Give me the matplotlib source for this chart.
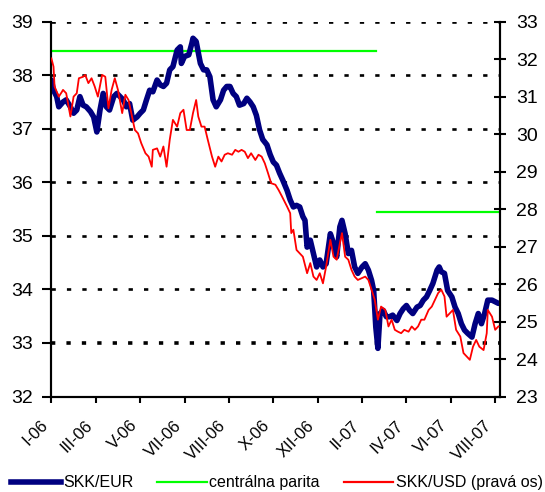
import matplotlib
matplotlib.use("Agg")
import matplotlib.pyplot as plt
from matplotlib.lines import Line2D
from matplotlib.transforms import ScaledTranslation

plt.rcParams['font.family'] = ['Liberation Sans', 'DejaVu Sans']

# Trading-day index (0 = 2 Jan 2006) and SKK/EUR fixing
eur_day = [0, 2, 5, 7, 11, 14, 18, 21, 24, 27, 30, 33, 37, 40, 43, 46, 49, 52, 55, 59,
           62, 65, 68, 71, 74, 77, 81, 84, 87, 90, 93, 96, 100, 103, 106, 109, 112, 115,
           119, 122, 123, 126, 130, 133, 134, 137, 141, 144, 147, 150, 153, 156, 160,
           163, 166, 169, 172, 175, 178, 182, 185, 188, 191, 194, 197, 200, 204, 207,
           210, 213, 216, 219, 223, 226, 229, 232, 235, 238, 240, 242, 245, 248, 251,
           254, 257, 260, 264, 267, 270, 273, 275, 278, 281, 284, 287, 290, 294, 297,
           300, 303, 305, 307, 309, 311, 314, 317, 320, 323, 327, 330, 333, 336, 339,
           342, 346, 349, 352, 355, 358, 361, 365, 367, 369, 372, 375, 379, 382, 385,
           388, 391, 394, 398, 401, 404, 407, 410, 413, 417, 420, 423]
eur_rate = [37.91, 37.72, 37.60, 37.41, 37.50, 37.54, 37.41, 37.29, 37.35, 37.60, 37.44,
            37.41, 37.32, 37.22, 36.94, 37.35, 37.66, 37.41, 37.35, 37.60, 37.66, 37.60,
            37.54, 37.41, 37.47, 37.16, 37.22, 37.29, 37.35, 37.54, 37.72, 37.69, 37.91,
            37.82, 37.79, 37.85, 38.10, 38.16, 38.47, 38.53, 38.22, 38.35, 38.38, 38.60,
            38.69, 38.63, 38.22, 38.10, 38.10, 37.97, 37.54, 37.41, 37.54, 37.72, 37.79,
            37.79, 37.66, 37.60, 37.44, 37.47, 37.57, 37.50, 37.41, 37.25, 36.98, 36.80,
            36.70, 36.52, 36.38, 36.32, 36.17, 36.04, 35.85, 35.67, 35.54, 35.57, 35.54,
            35.36, 35.29, 34.79, 34.92, 34.67, 34.42, 34.55, 34.42, 34.48, 35.04, 34.86,
            34.61, 35.17, 35.29, 35.04, 34.67, 34.73, 34.42, 34.30, 34.42, 34.48, 34.36,
            34.17, 33.98, 33.30, 32.90, 33.55, 33.61, 33.49, 33.49, 33.52, 33.42, 33.55,
            33.64, 33.70, 33.61, 33.55, 33.67, 33.70, 33.80, 33.86, 33.98, 34.11, 34.36,
            34.42, 34.33, 34.30, 33.98, 33.86, 33.67, 33.55, 33.36, 33.24, 33.18, 33.11,
            33.36, 33.55, 33.36, 33.55, 33.80, 33.80, 33.77, 33.74]

# SKK/USD fixing (right axis)
usd_day = [0, 2, 3, 7, 10, 11, 14, 18, 19, 21, 24, 26, 30, 32, 35, 38, 41, 44, 48, 51,
           54, 57, 60, 63, 67, 70, 73, 76, 79, 82, 85, 89, 92, 95, 96, 100, 103, 106,
           109, 112, 115, 119, 122, 125, 128, 131, 134, 137, 139, 142, 145, 148, 152,
           155, 158, 161, 164, 167, 171, 174, 177, 180, 183, 186, 189, 193, 196, 199,
           202, 205, 208, 212, 215, 218, 223, 226, 227, 229, 232, 235, 238, 242, 245,
           248, 251, 254, 257, 260, 264, 267, 270, 273, 275, 278, 281, 284, 287, 290,
           294, 297, 300, 303, 306, 309, 312, 316, 319, 322, 325, 328, 331, 334, 338,
           341, 344, 347, 350, 353, 357, 360, 363, 366, 369, 372, 374, 377, 380, 383,
           387, 390, 393, 396, 399, 402, 405, 409, 412, 413, 417, 420, 423]
usd_rate = [32.02, 31.80, 31.27, 31.00, 31.13, 31.18, 31.09, 30.47, 30.65, 31.00, 31.09,
            31.49, 31.53, 31.58, 31.36, 31.49, 31.27, 31.00, 31.58, 31.53, 30.69, 31.18,
            31.49, 31.18, 30.56, 31.05, 30.91, 30.51, 30.11, 30.02, 29.76, 29.49, 29.40,
            29.13, 29.58, 29.62, 29.40, 29.67, 29.13, 29.85, 30.38, 30.20, 30.56, 30.65,
            30.11, 30.11, 30.56, 30.91, 30.47, 30.20, 30.20, 29.85, 29.40, 29.13, 29.40,
            29.27, 29.45, 29.49, 29.45, 29.58, 29.53, 29.58, 29.53, 29.36, 29.49, 29.31,
            29.45, 29.40, 29.22, 28.96, 28.69, 28.65, 28.51, 28.35, 28.07, 27.89, 27.36,
            27.45, 26.91, 26.82, 26.73, 26.29, 26.56, 26.20, 26.11, 26.29, 26.02, 26.47,
            27.18, 26.73, 26.65, 27.09, 27.36, 26.73, 26.65, 26.38, 26.20, 26.11, 26.16,
            26.20, 26.11, 25.85, 25.58, 25.05, 25.40, 25.31, 24.87, 25.05, 24.78, 24.73,
            24.69, 24.78, 24.73, 24.87, 24.78, 24.87, 25.05, 25.05, 25.31, 25.40, 25.58,
            25.76, 25.85, 25.67, 25.13, 25.22, 25.31, 24.78, 24.60, 24.16, 24.07, 23.98,
            24.33, 24.51, 24.33, 24.24, 24.69, 25.31, 25.13, 24.78, 24.87]

# ERM II central parity and the trading days it applied to
parity_rate = [38.4550, 35.4424]
parity_first_day = [0, 308]
parity_last_day = [307, 425]

last_day = 425
tick_days = [0, 42, 84, 126, 168, 210, 252, 294, 336, 378, 420]
tick_labels = ["I-06", "III-06", "V-06", "VII-06", "VIII-06", "X-06", "XII-06",
               "II-07", "IV-07", "VI-07", "VIII-07"]
left_ticks = [32, 33, 34, 35, 36, 37, 38, 39]
right_ticks = [23, 24, 25, 26, 27, 28, 29, 30, 31, 32, 33]

NAVY = "#000080"
RED = "#FF0000"
GREEN = "#00FF00"
EUR_LW = 4.0

fig = plt.figure(figsize=(5.45, 4.92), dpi=100)
ax = fig.add_axes([0.0943, 0.194, 0.824, 0.762])
ax2 = ax.twinx()

# dashed horizontal guides
for y in left_ticks[1:]:
    lw = 2.6 if y == 33 else 1.9
    ax.axhline(y, color="black", linewidth=lw, linestyle=(0, (3.1 / lw, 8.0 / lw)),
               zorder=1)

for rate, d0, d1 in zip(parity_rate, parity_first_day, parity_last_day):
    ax.plot([d0, d1], [rate, rate], color=GREEN, linewidth=1.6, zorder=2)

ax.plot(eur_day, eur_rate, color=NAVY, linewidth=EUR_LW, solid_joinstyle="round",
        solid_capstyle="round", zorder=3)
ax2.plot(usd_day, usd_rate, color=RED, linewidth=1.3, zorder=3)

ax.set_xlim(0, last_day)
ax.set_ylim(left_ticks[0], left_ticks[-1])
ax2.set_ylim(right_ticks[0], right_ticks[-1])

ax.set_yticks(left_ticks)
ax2.set_yticks(right_ticks)
ax.set_xticks(tick_days)
ax.set_xticklabels(tick_labels, rotation=45, ha="right", va="center",
                   rotation_mode="anchor", fontsize=12)

for a in (ax, ax2):
    a.spines["top"].set_visible(False)
    for s in ("left", "right", "bottom"):
        a.spines[s].set_linewidth(1.5)
        a.spines[s].set_color("black")

ax.tick_params(axis="y", direction="out", length=6.5, width=1.5, pad=6.5, labelsize=14)
ax2.tick_params(axis="y", direction="inout", length=8, width=1.5, pad=7, labelsize=14)
ax.tick_params(axis="x", direction="out", length=4, width=1.5, pad=15)

shift = ScaledTranslation(-4 / 72, 0, fig.dpi_scale_trans)
for lab in ax.get_xticklabels():
    lab.set_transform(lab.get_transform() + shift)

handles = [Line2D([], [], color=NAVY, linewidth=EUR_LW),
           Line2D([], [], color=GREEN, linewidth=1.6),
           Line2D([], [], color=RED, linewidth=1.6)]
fig.legend(handles, ["SKK/EUR", "centrálna parita", "SKK/USD (pravá os)"],
           loc="center", bbox_to_anchor=(0.508, 0.019), ncol=3, frameon=False,
           fontsize=11.5, handlelength=3.1, handletextpad=0.15, columnspacing=1.5,
           borderaxespad=0, borderpad=0)

fig.savefig("out.png", dpi=100)
